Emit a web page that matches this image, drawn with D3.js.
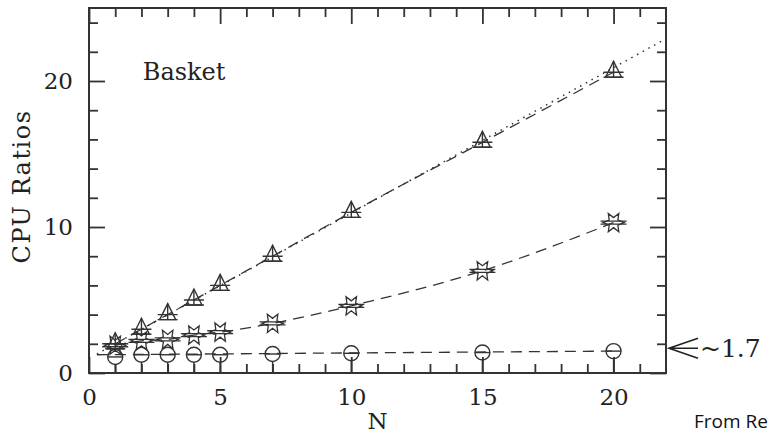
<!DOCTYPE html>
<html>
<head>
<meta charset="utf-8">
<script src="https://cdn.jsdelivr.net/npm/d3@7"></script>
<style>
  html, body { margin: 0; padding: 0; background: #fff; }
  svg { display: block; }
  .serif { font-family: "DejaVu Serif", "Liberation Serif", serif; fill: #222; }
  .tick line { stroke: #333; stroke-width: 1.8; }
  .tick text { font-family: "DejaVu Serif", "Liberation Serif", serif; fill: #222; }
</style>
</head>
<body>
<div id="chart"></div>
<script>
//data
const nValues = [1, 2, 3, 4, 5, 7, 10, 15, 20];
const triangleRatios = [2.0, 3.0, 4.0, 5.0, 6.0, 8.0, 11.0, 15.8, 20.6];
const starRatios = [1.9, 2.2, 2.3, 2.6, 2.8, 3.4, 4.6, 7.0, 10.3];
const circleRatios = [1.1, 1.25, 1.25, 1.25, 1.25, 1.3, 1.35, 1.4, 1.5];

//dotted reference line and flat fit under the circles
const dottedN = [0.3, 22];
const dottedRatios = [1.3, 22.9];
const circleFitN = [0.3, 20];
const circleFitRatios = [1.25, 1.5];

const xMajorTicks = [0, 5, 10, 15, 20];
const xMinorTicks = [1, 2, 3, 4, 6, 7, 8, 9, 11, 12, 13, 14, 16, 17, 18, 19, 21];
const yMajorTicks = [0, 10, 20];
const yMinorTicks = [2, 4, 6, 8, 12, 14, 16, 18, 22, 24];

const annotationValue = 1.7;

const DIMENSIONS = {
	size: [769, 436],
	margin: { top: 8, right: 103, bottom: 63, left: 89 }
};

const ink = '#333';

function zip(xs, ys){ return xs.map((d, i) => [d, ys[i]]); }

function chart(){
	const dims = DIMENSIONS;
	const width = dims.size[0] - dims.margin.left - dims.margin.right;
	const height = dims.size[1] - dims.margin.top - dims.margin.bottom;

	const svg = d3.select('#chart').append('svg')
		.attr('width', dims.size[0])
		.attr('height', dims.size[1]);

	const g = svg.append('g')
		.attr('transform', `translate(${dims.margin.left},${dims.margin.top})`);

	const x = d3.scaleLinear().domain([0, 22]).range([0, width]);
	const y = d3.scaleLinear().domain([0, 25]).range([height, 0]);

	drawAxes(g, x, y, width, height);

	g.append('clipPath').attr('id', 'plot-clip')
		.append('rect').attr('width', width).attr('height', height);

	const lines = g.append('g').attr('clip-path', 'url(#plot-clip)');

	const straight = d3.line().x(d => x(d[0])).y(d => y(d[1]));
	const smooth = d3.line().x(d => x(d[0])).y(d => y(d[1])).curve(d3.curveMonotoneX);

	// dotted line
	lines.append('path')
		.datum(zip(dottedN, dottedRatios))
		.attr('d', straight)
		.attr('fill', 'none').attr('stroke', ink)
		.attr('stroke-width', 1.5)
		.attr('stroke-dasharray', '1.5,5');

	// dashed fits
	[zip(nValues, triangleRatios), zip(nValues, starRatios)].forEach(pts => {
		lines.append('path')
			.datum(pts)
			.attr('d', smooth)
			.attr('fill', 'none').attr('stroke', ink)
			.attr('stroke-width', 1.3)
			.attr('stroke-dasharray', '11,7');
	});
	lines.append('path')
		.datum(zip(circleFitN, circleFitRatios))
		.attr('d', straight)
		.attr('fill', 'none').attr('stroke', ink)
		.attr('stroke-width', 1.3)
		.attr('stroke-dasharray', '11,7');

	drawTriangles(g, x, y);
	drawStars(g, x, y);
	drawCircles(g, x, y);

	// labels
	g.append('text').attr('class', 'serif')
		.attr('x', x(2.05)).attr('y', y(20.1))
		.style('font-size', '24px')
		.text('Basket');

	g.append('text').attr('class', 'serif')
		.attr('transform', `translate(${-dims.margin.left + 30},${height / 2 - 4}) rotate(-90)`)
		.attr('text-anchor', 'middle')
		.style('font-size', '24px')
		.style('letter-spacing', '1.5px')
		.text('CPU Ratios');

	g.append('text').attr('class', 'serif')
		.attr('x', width / 2).attr('y', height + 56)
		.attr('text-anchor', 'middle')
		.style('font-size', '23px')
		.text('N');

	// ~1.7 arrow on the right
	const ay = y(annotationValue);
	const ax = width + 3;
	g.append('path')
		.attr('d', `M${ax + 29},${ay - 10} L${ax},${ay} L${ax + 29},${ay + 10} M${ax},${ay} L${ax + 29},${ay}`)
		.attr('fill', 'none').attr('stroke', '#222').attr('stroke-width', 1.6);

	g.append('text').attr('class', 'serif')
		.attr('x', ax + 31).attr('y', ay + 9)
		.style('font-size', '25px')
		.text('~' + annotationValue);

	svg.append('text')
		.attr('x', 694).attr('y', 428)
		.style('font-family', '"Open Sans", "Noto Sans", sans-serif')
		.style('font-size', '19px')
		.attr('fill', '#111')
		.text('From Re');
}

function drawAxes(g, x, y, width, height){
	const major = 16, minor = 9;

	g.append('g').attr('class', 'xaxis')
		.attr('transform', `translate(0,${height})`)
		.call(d3.axisBottom(x).tickValues(xMajorTicks).tickSize(-major).tickPadding(16))
		.style('font-size', '23px');
	g.append('g').attr('transform', `translate(0,${height})`)
		.call(d3.axisBottom(x).tickValues(xMinorTicks).tickSize(-minor).tickFormat(''));
	g.append('g')
		.call(d3.axisTop(x).tickValues(xMajorTicks).tickSize(-major).tickFormat(''));
	g.append('g')
		.call(d3.axisTop(x).tickValues(xMinorTicks).tickSize(-minor).tickFormat(''));

	g.append('g').attr('class', 'yaxis')
		.call(d3.axisLeft(y).tickValues(yMajorTicks).tickSize(-major).tickPadding(16))
		.style('font-size', '23px');
	g.append('g')
		.call(d3.axisLeft(y).tickValues(yMinorTicks).tickSize(-minor).tickFormat(''));
	g.append('g').attr('transform', `translate(${width},0)`)
		.call(d3.axisRight(y).tickValues(yMajorTicks).tickSize(-major).tickFormat(''));
	g.append('g').attr('transform', `translate(${width},0)`)
		.call(d3.axisRight(y).tickValues(yMinorTicks).tickSize(-minor).tickFormat(''));

	g.selectAll('.domain').remove();
	g.selectAll('.tick text').attr('fill', '#222');

	g.append('rect')
		.attr('width', width).attr('height', height)
		.attr('fill', 'none').attr('stroke', ink).attr('stroke-width', 2);
}

function drawTriangles(g, x, y){
	const marks = g.append('g').attr('class', 'triangles')
		.selectAll('g').data(zip(nValues, triangleRatios)).join('g')
		.attr('transform', d => `translate(${x(d[0])},${y(d[1])})`)
		.attr('fill', 'none').attr('stroke', ink).attr('stroke-width', 1.4);
	marks.append('path').attr('d', 'M0,-11 L-8,5 L8,5 Z');
	marks.append('path').attr('d', 'M-10,0 H10 M-10,5 H10 M0,-11 V5');
}

function starPath(outer, inner){
	let pts = [];
	for(let i = 0; i < 12; i++){
		const r = i % 2 === 0 ? outer : inner;
		const a = i * Math.PI / 6;
		pts.push([r * Math.cos(a), r * Math.sin(a)]);
	}
	return 'M' + pts.map(p => p[0].toFixed(2) + ',' + p[1].toFixed(2)).join('L') + 'Z';
}

function drawStars(g, x, y){
	const marks = g.append('g').attr('class', 'stars')
		.selectAll('g').data(zip(nValues, starRatios)).join('g')
		.attr('transform', d => `translate(${x(d[0])},${y(d[1])})`)
		.attr('fill', 'none').attr('stroke', ink).attr('stroke-width', 1.3);
	marks.append('path').attr('d', starPath(10.5, 5));
	marks.append('path').attr('d', 'M-13,-1.5 H13 M-13,1.5 H13');
}

function drawCircles(g, x, y){
	const r = 7.5;
	const marks = g.append('g').attr('class', 'circles')
		.selectAll('g').data(zip(nValues, circleRatios)).join('g')
		.attr('transform', d => `translate(${x(d[0])},${y(d[1])})`)
		.attr('fill', 'none').attr('stroke', ink).attr('stroke-width', 1.4);
	marks.append('circle').attr('r', r);
	marks.append('path').attr('d', `M${-r},0 H${r}`);
	marks.append('line')
		.attr('y1', r)
		.attr('y2', d => y(0) - y(d[1]));
}

chart();
</script>
</body>
</html>
